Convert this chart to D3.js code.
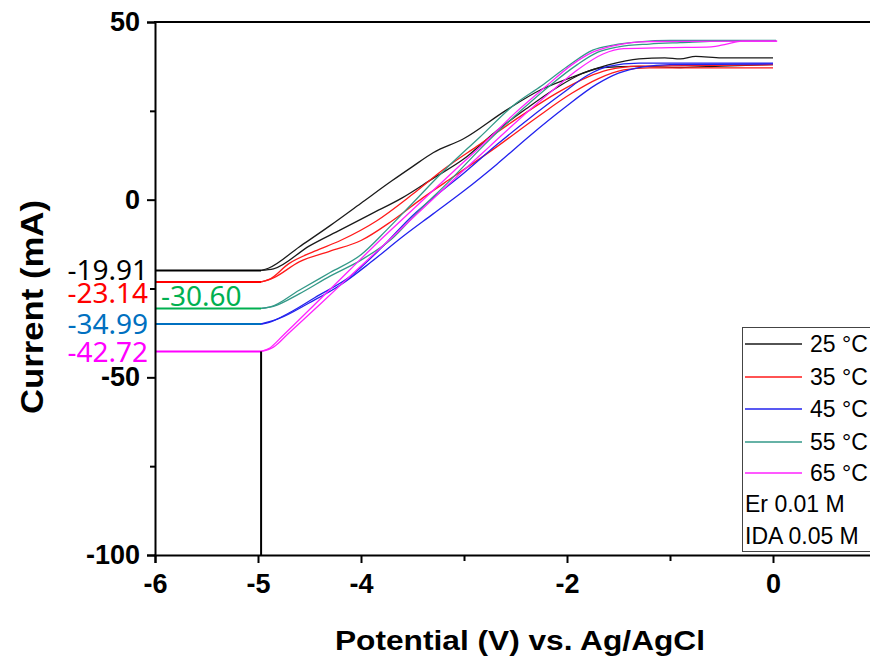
<!DOCTYPE html>
<html>
<head>
<meta charset="utf-8">
<script src="https://cdn.jsdelivr.net/npm/d3@7"></script>
<style>
  body { margin: 0; background: #fff; }
  svg { display: block; }
</style>
</head>
<body>
<script>
// values
const temps = ["25 °C", "35 °C", "45 °C", "55 °C", "65 °C"];
const limits = [-19.91, -23.14, -34.99, -30.60, -42.72];
const limitLabels = ["-19.91", "-23.14", "-34.99", "-30.60", "-42.72"];
const notes = ["Er 0.01 M", "IDA 0.05 M"];
const xTicks = [-6, -5, -4, -3, -2, -1, 0];
const xLabelled = [-6, -5, -4, -2, 0];
const yTicks = [50, 25, 0, -25, -50, -75, -100];
const yLabelled = [50, 0, -50, -100];

const c25a = [[-4.97,-19.91],[-4.9,-19.3],[-4.6,-13.3],[-4.3,-7.3],[-4.0,-1.0],[-3.7,5.3],[-3.5,9.3],[-3.3,13.2],[-3.0,17.2],[-2.6,25],[-2.25,31],[-1.95,34.5],[-1.6,37.9],[-1.3,39.6],[-1.05,39.9],[-0.9,39.6],[-0.75,40.3],[-0.5,39.9],[0,39.9]];
const c25b = [[-4.97,-19.91],[-4.85,-19.5],[-4.5,-13],[-4.2,-8.5],[-3.9,-4],[-3.6,0.5],[-3.3,6],[-3.0,11.5],[-2.7,19],[-2.4,25.5],[-2.1,31.5],[-1.85,35.5],[-1.65,37.2],[-1.3,37.5],[-0.9,37.2],[-0.5,37.6],[0,38]];
const c35a = [[-4.97,-23.14],[-4.9,-22.6],[-4.7,-18],[-4.45,-14.5],[-4.2,-11.5],[-3.85,-6],[-3.5,1.5],[-3.2,8.5],[-2.85,15.5],[-2.45,23.5],[-2.1,30],[-1.8,34.5],[-1.6,36.5],[-1.3,37.6],[-0.6,37.8],[0,38]];
const c35b = [[-4.97,-23.14],[-4.85,-22],[-4.6,-17.5],[-4.3,-14.5],[-4.0,-11.5],[-3.7,-6],[-3.4,0.5],[-3.1,6.5],[-2.7,14.5],[-2.3,23],[-1.95,30],[-1.7,34],[-1.45,36.5],[-1.2,37.1],[0,37.1]];
const c45a = [[-4.97,-34.99],[-4.9,-34.6],[-4.7,-31.9],[-4.45,-27.6],[-4.1,-21.5],[-3.8,-13.5],[-3.5,-4.5],[-3.3,0.5],[-3.0,7.5],[-2.68,15.5],[-2.36,23],[-2.04,30],[-1.8,35],[-1.6,37.5],[-1.3,38.4],[0,38.4]];
const c45b = [[-4.97,-34.99],[-4.8,-33.5],[-4.5,-29],[-4.2,-24],[-3.9,-17.5],[-3.6,-10.5],[-3.3,-4],[-3.0,2.5],[-2.68,10],[-2.36,18],[-2.04,25.5],[-1.71,32.5],[-1.5,35.6],[-1.26,37.4],[-1.0,38],[0,38.2]];
const c55a = [[-4.97,-30.6],[-4.88,-30.2],[-4.6,-25.5],[-4.3,-20.5],[-4.0,-15.5],[-3.75,-8.5],[-3.5,-1],[-3.2,8],[-2.85,17.5],[-2.5,27],[-2.25,32],[-2.0,37.4],[-1.75,42.1],[-1.55,43.5],[-1.3,44.4],[-1.0,44.8],[0.03,44.8]];
const c55b = [[-4.97,-30.6],[-4.85,-30],[-4.6,-26.5],[-4.3,-21.5],[-4.0,-17],[-3.7,-11],[-3.45,-3.5],[-3.15,5],[-2.8,15.5],[-2.45,25],[-2.15,32.5],[-1.9,38],[-1.7,41.5],[-1.5,43],[-1.2,43.8],[-0.9,44.2],[-0.4,44.7],[0.03,44.7]];
const c65a = [[-4.97,-42.72],[-4.9,-42],[-4.75,-38],[-4.45,-29.5],[-4.1,-19.5],[-3.8,-11],[-3.45,-1.5],[-3.1,8],[-2.8,16],[-2.5,24.5],[-2.2,32],[-1.95,38],[-1.75,41.5],[-1.55,43.3],[-1.2,44.5],[0.04,44.6]];
const c65b = [[-4.97,-42.72],[-4.85,-41.5],[-4.7,-37.5],[-4.4,-29.5],[-4.05,-20],[-3.75,-12],[-3.4,-2.5],[-3.05,7],[-2.75,15],[-2.45,23],[-2.15,30.5],[-1.9,36.5],[-1.65,41],[-1.45,42.5],[-1.0,42.8],[-0.6,43],[-0.45,43.8],[-0.3,44.6],[0.04,44.6]];

const curves = [[c25a, c25b], [c35a, c35b], [c45a, c45b], [c55a, c55b], [c65a, c65b]];
const lineColors = ["#1a1a1a", "#ff1a1a", "#2222ee", "#339988", "#ff22ff"];
const markColors = ["#000000", "#ff0000", "#0070c0", "#00b050", "#ff00ff"];

const width = 870, height = 659;
const svg = d3.select("body").append("svg")
  .attr("width", width)
  .attr("height", height);

const xScale = d3.scaleLinear().domain([-6, 1]).range([155, 876]);
const yScale = d3.scaleLinear().domain([-100, 50]).range([555, 22]);

// data curves
const line = d3.line()
  .x(d => xScale(d[0]))
  .y(d => yScale(d[1]))
  .curve(d3.curveMonotoneX);

curves.forEach((pair, i) => {
  pair.forEach(branch => {
    svg.append("path")
      .attr("d", line(branch))
      .attr("fill", "none")
      .attr("stroke", lineColors[i])
      .attr("stroke-width", 1.3);
  });
});

// limit lines from the axis to -4.97 V
limits.forEach((v, i) => {
  svg.append("line")
    .attr("x1", xScale(-6))
    .attr("x2", xScale(-4.97))
    .attr("y1", yScale(v))
    .attr("y2", yScale(v))
    .attr("stroke", markColors[i])
    .attr("stroke-width", 2);
});

svg.append("line")
  .attr("x1", xScale(-4.97))
  .attr("x2", xScale(-4.97))
  .attr("y1", yScale(-42.72))
  .attr("y2", yScale(-100))
  .attr("stroke", "#000")
  .attr("stroke-width", 2);

// axes
const xAxis = d3.axisBottom(xScale)
  .tickValues(xTicks)
  .tickSize(8)
  .tickFormat(d => xLabelled.includes(d) ? String(d) : "");
const yAxis = d3.axisLeft(yScale)
  .tickValues(yTicks)
  .tickSize(8)
  .tickFormat(d => yLabelled.includes(d) ? String(d) : "");

const gx = svg.append("g")
  .attr("transform", "translate(0," + yScale(-100) + ")")
  .call(xAxis);
const gy = svg.append("g")
  .attr("transform", "translate(" + xScale(-6) + ",0)")
  .call(yAxis);

[gx, gy].forEach(g => {
  g.select(".domain").attr("stroke-width", 2).attr("stroke", "#000");
  g.selectAll(".tick line").attr("stroke-width", 2).attr("stroke", "#000");
  g.selectAll(".tick text")
    .attr("font-family", "'Liberation Sans', Arial, sans-serif")
    .attr("font-weight", "bold")
    .attr("font-size", 27)
    .attr("fill", "#000");
});
gx.selectAll(".tick line").attr("y2", d => xLabelled.includes(d) ? 8 : 6);
gx.selectAll(".tick text").attr("y", 19);
gy.selectAll(".tick line").attr("x2", d => yLabelled.includes(d) ? -8 : -5);
gy.selectAll(".tick text").attr("x", -15);

// top frame line
svg.append("line")
  .attr("x1", xScale(-6) - 1)
  .attr("x2", width)
  .attr("y1", yScale(50))
  .attr("y2", yScale(50))
  .attr("stroke", "#000")
  .attr("stroke-width", 2);

// axis titles
svg.append("text")
  .attr("x", 335)
  .attr("y", 650)
  .attr("textLength", 370)
  .attr("lengthAdjust", "spacingAndGlyphs")
  .attr("font-family", "'Liberation Sans', Arial, sans-serif")
  .attr("font-weight", "bold")
  .attr("font-size", 27)
  .text("Potential (V) vs. Ag/AgCl");

svg.append("text")
  .attr("transform", "translate(43,414) rotate(-90)")
  .attr("textLength", 214)
  .attr("lengthAdjust", "spacingAndGlyphs")
  .attr("font-family", "'Liberation Sans', Arial, sans-serif")
  .attr("font-weight", "bold")
  .attr("font-size", 31)
  .text("Current (mA)");

// limit value labels
const labelPos = [
  { x: 148, y: 280, anchor: "end" },
  { x: 148, y: 303, anchor: "end" },
  { x: 148, y: 334, anchor: "end" },
  { x: 161, y: 306, anchor: "start" },
  { x: 148, y: 362, anchor: "end" }
];
limitLabels.forEach((t, i) => {
  svg.append("text")
    .attr("x", labelPos[i].x)
    .attr("y", labelPos[i].y)
    .attr("text-anchor", labelPos[i].anchor)
    .attr("font-family", "'Noto Sans', sans-serif")
    .attr("font-size", 28)
    .attr("fill", markColors[i])
    .text(t);
});

// legend
const legend = svg.append("g");
legend.append("rect")
  .attr("x", 742.5)
  .attr("y", 327.5)
  .attr("width", 140)
  .attr("height", 224)
  .attr("fill", "#fff")
  .attr("stroke", "#444")
  .attr("stroke-width", 1);

const rowY = [344, 377, 409, 442, 473, 504, 536];
temps.forEach((t, i) => {
  legend.append("line")
    .attr("x1", 745)
    .attr("x2", 802)
    .attr("y1", rowY[i])
    .attr("y2", rowY[i])
    .attr("stroke", lineColors[i])
    .attr("stroke-width", 1.5);
  legend.append("text")
    .attr("x", 810)
    .attr("y", rowY[i] + 8)
    .attr("font-family", "'Liberation Sans', Arial, sans-serif")
    .attr("font-size", 23)
    .text(t);
});
notes.forEach((t, i) => {
  legend.append("text")
    .attr("x", 745)
    .attr("y", rowY[5 + i] + 8)
    .attr("font-family", "'Liberation Sans', Arial, sans-serif")
    .attr("font-size", 23)
    .text(t);
});
</script>
</body>
</html>
